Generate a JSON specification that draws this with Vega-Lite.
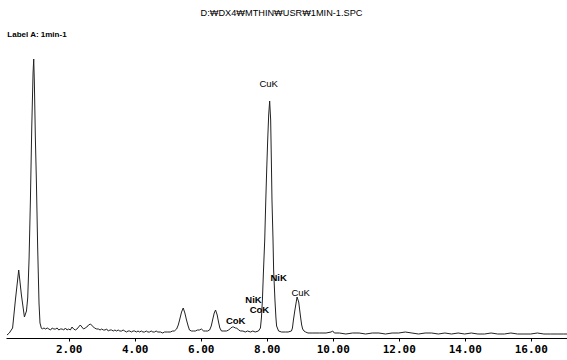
{
  "$schema": "https://vega.github.io/schema/vega-lite/v6.json",
  "autosize": "none",
  "width": 561,
  "height": 313,
  "padding": {"left": 6, "top": 25, "right": 0, "bottom": 22},
  "background": "white",
  "config": {"view": {"stroke": null}},
  "title": {"text": "D:₩DX4₩MTHIN₩USR₩1MIN-1.SPC", "font": "Liberation Sans", "fontSize": 9.2, "fontWeight": "normal", "color": "#000", "anchor": "middle", "offset": 7, "dx": -5},
  "datasets": {
    "spectrum": [
      {"kev": 0.13, "counts": 3}, {"kev": 0.2, "counts": 5}, {"kev": 0.3, "counts": 10}, {"kev": 0.385, "counts": 38},
      {"kev": 0.485, "counts": 68}, {"kev": 0.567, "counts": 43}, {"kev": 0.658, "counts": 21}, {"kev": 0.72, "counts": 27},
      {"kev": 0.758, "counts": 40}, {"kev": 0.8, "counts": 80}, {"kev": 0.84, "counts": 138}, {"kev": 0.88, "counts": 210},
      {"kev": 0.92, "counts": 265}, {"kev": 0.94, "counts": 279}, {"kev": 0.96, "counts": 255}, {"kev": 0.99, "counts": 200},
      {"kev": 1.02, "counts": 158}, {"kev": 1.06, "counts": 90}, {"kev": 1.1, "counts": 35}, {"kev": 1.13, "counts": 15},
      {"kev": 1.17, "counts": 10}, {"kev": 1.2, "counts": 9}, {"kev": 1.25, "counts": 10}, {"kev": 1.3, "counts": 9},
      {"kev": 1.35, "counts": 10}, {"kev": 1.4, "counts": 9}, {"kev": 1.45, "counts": 8}, {"kev": 1.5, "counts": 10},
      {"kev": 1.55, "counts": 9}, {"kev": 1.6, "counts": 9}, {"kev": 1.65, "counts": 10}, {"kev": 1.7, "counts": 8},
      {"kev": 1.75, "counts": 9}, {"kev": 1.8, "counts": 9}, {"kev": 1.85, "counts": 8}, {"kev": 1.9, "counts": 10},
      {"kev": 1.95, "counts": 8}, {"kev": 2.0, "counts": 9}, {"kev": 2.05, "counts": 8}, {"kev": 2.1, "counts": 11},
      {"kev": 2.15, "counts": 9}, {"kev": 2.2, "counts": 8}, {"kev": 2.25, "counts": 9}, {"kev": 2.3, "counts": 11},
      {"kev": 2.35, "counts": 13}, {"kev": 2.4, "counts": 11}, {"kev": 2.45, "counts": 9}, {"kev": 2.5, "counts": 10},
      {"kev": 2.55, "counts": 11}, {"kev": 2.6, "counts": 13}, {"kev": 2.66, "counts": 14}, {"kev": 2.72, "counts": 12},
      {"kev": 2.78, "counts": 10}, {"kev": 2.85, "counts": 9}, {"kev": 2.9, "counts": 9}, {"kev": 2.95, "counts": 8},
      {"kev": 3.0, "counts": 9}, {"kev": 3.05, "counts": 8}, {"kev": 3.1, "counts": 8}, {"kev": 3.15, "counts": 9},
      {"kev": 3.2, "counts": 7}, {"kev": 3.25, "counts": 8}, {"kev": 3.3, "counts": 8}, {"kev": 3.35, "counts": 7},
      {"kev": 3.4, "counts": 8}, {"kev": 3.45, "counts": 7}, {"kev": 3.5, "counts": 8}, {"kev": 3.55, "counts": 7},
      {"kev": 3.6, "counts": 7}, {"kev": 3.65, "counts": 8}, {"kev": 3.7, "counts": 7}, {"kev": 3.75, "counts": 6},
      {"kev": 3.8, "counts": 7}, {"kev": 3.85, "counts": 7}, {"kev": 3.9, "counts": 6}, {"kev": 3.95, "counts": 7},
      {"kev": 4.0, "counts": 7}, {"kev": 4.05, "counts": 6}, {"kev": 4.1, "counts": 7}, {"kev": 4.15, "counts": 6},
      {"kev": 4.2, "counts": 7}, {"kev": 4.25, "counts": 6}, {"kev": 4.3, "counts": 6}, {"kev": 4.35, "counts": 7},
      {"kev": 4.4, "counts": 6}, {"kev": 4.45, "counts": 6}, {"kev": 4.5, "counts": 7}, {"kev": 4.55, "counts": 6},
      {"kev": 4.6, "counts": 6}, {"kev": 4.65, "counts": 7}, {"kev": 4.7, "counts": 6}, {"kev": 4.78, "counts": 6},
      {"kev": 4.85, "counts": 5}, {"kev": 4.9, "counts": 6}, {"kev": 4.95, "counts": 6}, {"kev": 5.0, "counts": 6},
      {"kev": 5.08, "counts": 6}, {"kev": 5.15, "counts": 7}, {"kev": 5.2, "counts": 7}, {"kev": 5.27, "counts": 9},
      {"kev": 5.32, "counts": 13}, {"kev": 5.36, "counts": 18}, {"kev": 5.42, "counts": 26}, {"kev": 5.47, "counts": 30},
      {"kev": 5.52, "counts": 25}, {"kev": 5.57, "counts": 18}, {"kev": 5.62, "counts": 12}, {"kev": 5.66, "counts": 8},
      {"kev": 5.72, "counts": 7}, {"kev": 5.78, "counts": 7}, {"kev": 5.84, "counts": 7}, {"kev": 5.9, "counts": 8},
      {"kev": 5.96, "counts": 8}, {"kev": 6.02, "counts": 9}, {"kev": 6.09, "counts": 7}, {"kev": 6.15, "counts": 7},
      {"kev": 6.21, "counts": 7}, {"kev": 6.27, "counts": 8}, {"kev": 6.32, "counts": 12}, {"kev": 6.36, "counts": 18},
      {"kev": 6.41, "counts": 25}, {"kev": 6.45, "counts": 28}, {"kev": 6.5, "counts": 23}, {"kev": 6.54, "counts": 16},
      {"kev": 6.58, "counts": 10}, {"kev": 6.63, "counts": 7}, {"kev": 6.7, "counts": 7}, {"kev": 6.78, "counts": 7},
      {"kev": 6.85, "counts": 8}, {"kev": 6.91, "counts": 10}, {"kev": 6.96, "counts": 11}, {"kev": 7.0, "counts": 11},
      {"kev": 7.05, "counts": 10}, {"kev": 7.09, "counts": 10}, {"kev": 7.15, "counts": 8}, {"kev": 7.21, "counts": 7},
      {"kev": 7.28, "counts": 7}, {"kev": 7.35, "counts": 6}, {"kev": 7.42, "counts": 7}, {"kev": 7.51, "counts": 6},
      {"kev": 7.58, "counts": 7}, {"kev": 7.65, "counts": 6}, {"kev": 7.75, "counts": 7}, {"kev": 7.81, "counts": 10},
      {"kev": 7.84, "counts": 20}, {"kev": 7.87, "counts": 38}, {"kev": 7.9, "counts": 65}, {"kev": 7.94, "counts": 98},
      {"kev": 7.97, "counts": 135}, {"kev": 8.0, "counts": 168}, {"kev": 8.03, "counts": 198}, {"kev": 8.06, "counts": 223},
      {"kev": 8.09, "counts": 237}, {"kev": 8.12, "counts": 218}, {"kev": 8.14, "counts": 180}, {"kev": 8.16, "counts": 138},
      {"kev": 8.19, "counts": 100}, {"kev": 8.21, "counts": 68}, {"kev": 8.25, "counts": 38}, {"kev": 8.28, "counts": 20},
      {"kev": 8.3, "counts": 12}, {"kev": 8.36, "counts": 7}, {"kev": 8.45, "counts": 6}, {"kev": 8.57, "counts": 6},
      {"kev": 8.65, "counts": 6}, {"kev": 8.75, "counts": 7}, {"kev": 8.78, "counts": 10}, {"kev": 8.81, "counts": 18},
      {"kev": 8.85, "counts": 27}, {"kev": 8.88, "counts": 33}, {"kev": 8.92, "counts": 41}, {"kev": 8.97, "counts": 36},
      {"kev": 9.0, "counts": 28}, {"kev": 9.03, "counts": 20}, {"kev": 9.06, "counts": 13}, {"kev": 9.09, "counts": 9},
      {"kev": 9.13, "counts": 7}, {"kev": 9.18, "counts": 6}, {"kev": 9.25, "counts": 5}, {"kev": 9.4, "counts": 5},
      {"kev": 9.6, "counts": 5}, {"kev": 9.8, "counts": 5}, {"kev": 9.95, "counts": 6}, {"kev": 10.0, "counts": 7},
      {"kev": 10.05, "counts": 5}, {"kev": 10.2, "counts": 5}, {"kev": 10.4, "counts": 4}, {"kev": 10.6, "counts": 5},
      {"kev": 10.8, "counts": 5}, {"kev": 11.0, "counts": 4}, {"kev": 11.2, "counts": 5}, {"kev": 11.4, "counts": 5},
      {"kev": 11.6, "counts": 4}, {"kev": 11.8, "counts": 5}, {"kev": 12.0, "counts": 5}, {"kev": 12.2, "counts": 6},
      {"kev": 12.4, "counts": 5}, {"kev": 12.6, "counts": 4}, {"kev": 12.8, "counts": 5}, {"kev": 13.0, "counts": 5},
      {"kev": 13.2, "counts": 4}, {"kev": 13.4, "counts": 5}, {"kev": 13.6, "counts": 4}, {"kev": 13.8, "counts": 5},
      {"kev": 14.0, "counts": 4}, {"kev": 14.2, "counts": 5}, {"kev": 14.4, "counts": 4}, {"kev": 14.6, "counts": 4},
      {"kev": 14.8, "counts": 5}, {"kev": 15.0, "counts": 4}, {"kev": 15.2, "counts": 4}, {"kev": 15.4, "counts": 5},
      {"kev": 15.6, "counts": 4}, {"kev": 15.8, "counts": 4}, {"kev": 16.0, "counts": 4}, {"kev": 16.2, "counts": 5},
      {"kev": 16.4, "counts": 4}, {"kev": 16.6, "counts": 4}, {"kev": 16.8, "counts": 4}, {"kev": 17.0, "counts": 4},
      {"kev": 17.1, "counts": 4}
    ],
    "peaks": [
      {"kev": 8.06, "counts": 254, "label": "CuK"},
      {"kev": 7.6, "counts": 38, "label": "NiK"},
      {"kev": 7.78, "counts": 28, "label": "CoK"},
      {"kev": 7.06, "counts": 17, "label": "CoK"},
      {"kev": 8.36, "counts": 60, "label": "NiK"},
      {"kev": 9.03, "counts": 45, "label": "CuK"}
    ],
    "header": [
      {"kev": 0.14, "counts": 303, "label": "Label A: 1min-1"}
    ]
  },
  "layer": [
    {
      "data": {"name": "spectrum"},
      "mark": {"type": "line", "stroke": "#222", "strokeWidth": 1, "interpolate": "linear"},
      "encoding": {
        "x": {"field": "kev", "type": "quantitative",
          "scale": {"domain": [0.1, 17.1], "nice": false, "zero": false},
          "axis": {"title": null, "values": [2, 4, 6, 8, 10, 12, 14, 16], "format": ".2f", "grid": false,
            "domainColor": "#000", "domainWidth": 1, "tickColor": "#000", "tickSize": 3,
            "labelFont": "DejaVu Sans Mono", "labelFontWeight": "bold", "labelFontSize": 11, "labelColor": "#000", "labelPadding": 2, "labelDx": 4}},
        "y": {"field": "counts", "type": "quantitative", "scale": {"domain": [0, 313], "nice": false}, "axis": null}
      }
    },
    {
      "data": {"name": "peaks"},
      "transform": [{"filter": "datum.label == 'CuK'"}],
      "mark": {"type": "text", "font": "Liberation Sans", "fontSize": 9.5, "fontWeight": "normal", "fill": "#000", "baseline": "middle", "align": "center"},
      "encoding": {
        "x": {"field": "kev", "type": "quantitative"},
        "y": {"field": "counts", "type": "quantitative"},
        "text": {"field": "label"}
      }
    },
    {
      "data": {"name": "peaks"},
      "transform": [{"filter": "datum.label != 'CuK'"}],
      "mark": {"type": "text", "font": "Liberation Sans", "fontSize": 9.5, "fontWeight": "bold", "fill": "#000", "baseline": "middle", "align": "center"},
      "encoding": {
        "x": {"field": "kev", "type": "quantitative"},
        "y": {"field": "counts", "type": "quantitative"},
        "text": {"field": "label"}
      }
    },
    {
      "data": {"name": "header"},
      "mark": {"type": "text", "font": "Liberation Sans", "fontSize": 8, "fontWeight": "bold", "fill": "#000", "baseline": "middle", "align": "left"},
      "encoding": {
        "x": {"field": "kev", "type": "quantitative"},
        "y": {"field": "counts", "type": "quantitative"},
        "text": {"field": "label"}
      }
    }
  ]
}
